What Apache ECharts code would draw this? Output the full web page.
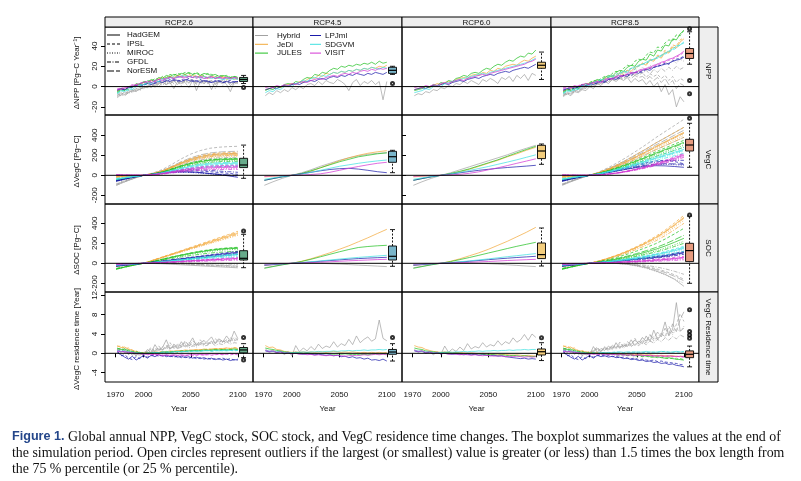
<!DOCTYPE html>
<html><head><meta charset="utf-8">
<script src="https://cdn.jsdelivr.net/npm/echarts@6/dist/echarts.min.js"></script>
<style>html,body{margin:0;padding:0;background:#fff}#c{width:801px;height:481px}</style>
</head><body><div id="c"></div>
<script>
// ---------------- DATA ----------------
const scenarios = ['RCP2.6','RCP4.5','RCP6.0','RCP8.5'];
const variables = ['NPP','VegC','SOC','VegC Residence time'];
const yTitles = ['ΔNPP [Pg−C Year⁻¹]','ΔVegC [Pg−C]','ΔSOC [Pg−C]','ΔVegC residence time [Year]'];
const models = ['Hybrid','JeDi','JULES','LPJml','SDGVM','VISIT'];
const gcms = ['HadGEM','IPSL','MIROC','GFDL','NorESM'];
const xTicks = [1970,2000,2050,2100];
const yTicksNPP = [-20,0,20,40];
const yTicksVegC = [-200,0,200,400];
const yTicksSOC = [-200,0,200,400];
const yTicksRes = [-4,0,4,8,12];
const years4 = [1972,1976,1980,1984,1988,1992,1996,2000,2004,2008,2012,2016,2020,2024,2028,2032,2036,2040,2044,2048,2052,2056,2060,2064,2068,2072,2076,2080,2084,2088,2092,2096,2100];
const years10 = [1971,1980,1990,2000,2010,2020,2030,2040,2050,2060,2070,2080,2090,2100];
const boxYear = 2106;

// NPP RCP2.6 (rows = HadGEM, IPSL, MIROC, GFDL, NorESM)
const npp26_Hybrid = [
 [-9,-6,-8,-4,-5,-2,-3,0,-1,2,1,3,5,2,4,-2,5,3,6,4,7,-4,5,3,6,-3,5,4,6,2,-5,4,3],
 [-7,-8,-5,-6,-3,-4,-1,-2,1,0,3,2,4,6,3,5,7,4,6,8,5,3,7,5,4,6,3,5,7,4,6,2,5],
 [-10,-7,-9,-5,-6,-3,-4,-1,0,2,-1,3,4,2,5,3,6,4,5,3,6,5,2,6,4,5,3,6,1,5,4,3,5],
 [-8,-9,-6,-7,-4,-2,-3,0,-1,1,3,0,4,2,6,3,5,1,6,4,7,2,5,6,3,5,-2,6,4,5,3,5,4],
 [-11,-8,-9,-6,-4,-5,-2,-1,1,-1,2,4,1,5,3,6,2,7,4,-1,6,4,7,3,5,6,2,5,3,6,1,4,5]];
const npp26_JeDi = [
 [-4,-2,-3,0,-1,2,1,4,3,6,5,7,9,8,10,9,11,10,12,10,11,9,11,10,9,10,8,9,10,8,9,7,8],
 [-5,-3,-4,-1,0,1,3,2,4,6,5,8,7,9,10,8,11,9,10,12,10,11,9,10,8,9,10,8,9,7,8,9,7]];
const npp26_JULES = [
 [-5,-3,-4,0,-1,3,2,5,4,7,6,9,8,11,10,12,11,13,12,14,12,13,11,13,12,11,12,10,11,10,9,10,9],
 [-6,-4,-2,-3,1,0,3,4,6,5,8,7,10,9,12,11,13,12,14,13,12,14,12,11,13,12,10,11,10,11,9,10,9]];
const npp26_LPJml = [
 [-3,-2,-3,-1,0,1,0,2,3,2,4,5,4,6,5,7,6,5,7,6,5,6,4,6,5,4,5,6,4,5,4,5,5],
 [-4,-2,-3,0,-1,1,2,1,3,4,3,5,6,5,7,6,5,7,6,8,6,5,7,5,6,4,6,5,4,5,6,4,5]];
const npp26_SDGVM = [
 [-6,-4,-5,-2,-3,0,1,2,4,3,6,5,8,7,9,8,10,9,11,10,9,10,8,10,9,8,9,8,7,8,7,8,7],
 [-7,-5,-3,-4,-1,0,2,3,2,5,6,5,7,9,8,10,9,11,10,9,11,9,10,8,9,10,8,9,7,8,9,7,8]];
const npp26_VISIT = [
 [-2,-3,-1,0,1,2,3,4,5,4,6,7,6,8,9,8,9,10,9,10,9,10,9,8,9,10,8,9,8,9,8,9,8],
 [-3,-1,-2,0,2,1,3,5,4,6,5,7,8,7,9,8,10,9,8,10,9,8,10,9,8,9,8,10,8,9,8,9,8]];
const npp26_box = [3,5,7,9,11];
const npp26_out = [-1];

// NPP RCP4.5 (HadGEM)
const npp45_Hybrid = [[-9,-6,-8,-4,-6,-3,-5,-1,-3,0,-2,2,3,1,5,2,6,4,3,7,5,2,-4,4,7,1,5,3,6,2,5,-13,5]];
const npp45_JeDi = [[-3,-2,-1,0,-1,1,2,3,2,5,4,7,9,8,11,10,13,12,14,13,15,14,16,15,17,16,18,17,19,18,20,19,21]];
const npp45_JULES = [[-4,-2,-3,0,-1,2,3,2,5,4,7,9,8,12,11,14,13,16,18,17,20,19,21,20,22,21,23,22,24,22,25,23,24]];
const npp45_LPJml = [[-3,-2,-1,-2,0,1,0,2,3,2,4,5,6,5,7,8,7,9,10,9,11,10,12,11,13,12,11,13,12,14,13,12,14]];
const npp45_SDGVM = [[-6,-4,-5,-2,-3,0,1,0,3,4,6,5,8,9,8,11,10,12,14,13,15,14,16,15,17,16,18,17,19,18,17,19,18]];
const npp45_VISIT = [[-1,0,-1,1,0,2,1,3,2,4,5,4,6,7,8,7,9,10,11,10,12,13,12,14,13,15,16,15,17,16,18,17,18]];
const npp45_box = [12,13,16,19,20];
const npp45_out = [3];

// NPP RCP6.0 (HadGEM)
const npp60_Hybrid = [[-9,-7,-8,-5,-6,-3,-4,-1,-2,1,0,3,2,5,3,6,4,2,7,5,8,6,3,9,7,10,5,11,8,12,6,13,11]];
const npp60_JeDi = [[-3,-2,-1,0,-1,1,3,2,4,5,4,7,8,9,8,11,12,11,14,13,16,15,18,17,20,21,22,21,24,26,25,28,30]];
const npp60_JULES = [[-4,-3,-2,0,-1,2,1,4,3,6,5,8,9,11,10,13,14,13,16,18,17,20,22,21,24,26,25,28,30,29,33,32,36]];
const npp60_LPJml = [[-3,-2,-1,-2,0,1,0,2,3,2,4,5,6,5,7,8,9,8,10,11,12,11,13,14,15,14,16,17,18,19,18,20,22]];
const npp60_SDGVM = [[-6,-5,-4,-2,-3,0,1,0,3,4,5,6,7,8,9,10,11,12,13,12,14,15,16,17,18,19,20,21,22,23,24,26,28]];
const npp60_VISIT = [[-1,0,-1,1,0,2,1,3,4,3,5,6,7,6,8,9,10,11,12,11,13,14,15,16,17,18,19,20,21,22,24,25,27]];
const npp60_box = [7,18,21,24,34];
const npp60_out = [];

// NPP RCP8.5
const npp85_Hybrid = [
 [-10,-7,-9,-5,-6,-3,-4,0,-2,3,1,5,3,7,5,8,6,9,4,8,5,7,2,6,0,4,-5,2,-8,-3,-20,-10,-15],
 [-8,-6,-7,-3,-5,-1,-2,2,0,4,3,6,5,9,7,10,8,12,10,13,11,14,9,13,10,12,8,11,6,10,4,8,6],
 [-9,-5,-7,-4,-3,-1,0,2,1,5,3,7,6,10,8,12,11,15,13,17,15,19,16,21,18,23,20,24,22,26,23,27,25],
 [-7,-8,-5,-6,-2,-3,1,-1,3,2,6,4,8,6,10,9,12,10,14,11,15,13,16,12,17,14,18,15,19,16,20,17,19],
 [-9,-6,-8,-4,-5,-2,-1,1,0,3,2,5,4,7,6,9,7,10,8,11,9,10,7,10,6,9,4,8,2,6,-2,3,1]];
const npp85_JeDi = [
 [-4,-3,-2,0,-1,2,1,4,3,6,5,8,9,11,10,13,14,16,15,19,20,23,21,26,25,30,28,34,33,39,38,44,47],
 [-5,-3,-4,-1,0,1,3,2,5,6,5,8,10,9,12,13,12,16,18,17,21,23,22,27,26,31,30,36,34,41,40,46,48]];
const npp85_JULES = [
 [-5,-3,-4,-1,-2,1,3,2,5,7,6,9,11,10,14,16,15,19,21,20,25,27,26,32,30,36,35,41,40,47,46,52,55],
 [-6,-4,-2,-3,0,2,1,4,6,5,8,10,9,13,15,14,18,21,20,25,27,26,31,34,33,39,38,43,46,45,51,50,56]];
const npp85_LPJml = [
 [-3,-2,-1,-2,0,1,0,3,2,4,5,4,7,8,7,10,11,10,13,14,13,16,17,16,19,20,21,22,23,25,26,27,29],
 [-4,-2,-3,0,-1,2,1,3,4,3,6,5,7,8,9,8,11,12,11,14,15,14,17,18,19,20,21,23,22,25,27,28,30]];
const npp85_SDGVM = [
 [-6,-4,-5,-2,-3,0,2,1,4,5,7,6,9,11,10,13,15,14,18,19,21,22,24,26,27,29,31,33,35,37,40,41,44],
 [-7,-5,-3,-4,-1,1,0,3,4,6,5,8,10,9,12,14,13,16,18,17,20,22,23,25,27,28,30,32,34,36,38,41,43]];
const npp85_VISIT = [
 [-1,0,-1,1,0,2,3,2,4,5,4,7,8,7,10,11,10,13,14,13,16,17,18,19,21,22,24,25,27,28,30,32,35],
 [-2,-1,0,-1,1,2,1,3,4,5,4,6,7,8,9,10,11,12,13,14,15,16,17,18,20,21,23,24,26,27,29,31,34]];
const npp85_box = [22,27.7,32.6,37.5,54];
const npp85_out = [57,6,-7];

// VegC RCP2.6
const vegc26_Hybrid = [
 [-100,-65,-30,0,18,44,84,125,161,187,205,213,218,220],
 [-90,-58,-27,0,23,58,110,165,212,247,270,281,287,290],
 [-80,-52,-24,0,16,40,76,114,146,170,186,194,198,200],
 [-100,-65,-30,0,14,36,68,103,131,153,167,175,178,180],
 [-90,-58,-27,0,19,48,91,137,175,204,223,233,238,240]];
const vegc26_JeDi = [
 [-20,-13,-6,0,17,42,80,120,153,179,195,204,208,210],
 [-15,-10,-5,0,18,46,87,131,168,196,214,223,228,230],
 [-20,-13,-6,0,15,38,72,108,139,162,177,184,188,190],
 [-10,-7,-3,0,16,40,76,114,146,170,186,194,198,200],
 [-15,-10,-5,0,18,44,84,125,161,187,205,213,218,220]];
const vegc26_JULES = [
 [-50,-33,-15,0,13,32,61,91,117,136,149,155,158,160],
 [-45,-29,-14,0,14,34,65,97,124,145,158,165,168,170],
 [-55,-36,-17,0,12,30,57,86,110,128,140,146,149,150],
 [-50,-33,-15,0,11,28,53,80,102,119,130,136,139,140],
 [-45,-29,-14,0,13,33,63,94,120,140,153,160,163,165]];
const vegc26_LPJml = [
 [-60,-40,-18,0,10,22,32,36,34,28,18,8,-6,-20],
 [-55,-36,-16,0,12,26,38,45,46,42,36,28,20,10],
 [-60,-39,-18,0,8,18,26,30,28,22,14,6,-2,-10],
 [-50,-33,-15,0,12,28,42,52,56,54,49,42,36,30],
 [-55,-36,-16,0,10,22,30,34,32,26,18,10,4,0]];
const vegc26_SDGVM = [
 [-40,-26,-12,0,10,24,46,68,88,102,112,116,119,120],
 [-35,-23,-11,0,9,22,42,63,80,94,102,107,109,110],
 [-40,-26,-12,0,8,20,38,57,73,85,93,97,99,100],
 [-30,-20,-9,0,7,18,34,51,66,77,84,87,89,90],
 [-40,-26,-12,0,10,26,49,74,95,111,121,126,129,130]];
const vegc26_VISIT = [
 [5,3,2,0,6,16,30,46,58,68,74,78,79,80],
 [0,0,0,0,8,20,38,57,73,85,93,97,99,100],
 [5,3,2,0,6,14,27,40,51,60,65,68,69,70],
 [0,0,0,0,5,12,23,34,44,51,56,58,59,60],
 [5,3,2,0,7,18,34,51,66,77,84,87,89,90]];
const vegc26_box = [-30,77,103,170,302];
const vegc26_out = [];

// VegC RCP4.5
const vegc45_Hybrid = [[-100,-65,-30,0,25,55,90,120,150,175,195,210,220,225]];
const vegc45_JeDi = [[-15,-10,-5,0,15,40,75,110,145,175,200,220,235,246]];
const vegc45_JULES = [[-50,-33,-15,0,18,45,75,105,135,160,185,200,215,225]];
const vegc45_LPJml = [[-50,-33,-15,0,15,30,45,58,66,70,62,50,36,26]];
const vegc45_SDGVM = [[-40,-26,-12,0,12,30,50,70,90,105,120,133,144,153]];
const vegc45_VISIT = [[-10,-6,-3,0,3,8,15,30,50,70,88,105,120,130]];
const vegc45_box = [26,130,186,240,250];
const vegc45_out = [];

// VegC RCP6.0
const vegc60_Hybrid = [[-100,-65,-30,0,25,55,85,115,145,175,205,240,270,300]];
const vegc60_JeDi = [[-15,-10,-5,0,15,35,60,90,120,150,185,215,250,280]];
const vegc60_JULES = [[-50,-33,-15,0,18,40,65,95,125,155,190,225,258,290]];
const vegc60_LPJml = [[-50,-33,-15,0,12,25,38,50,60,70,78,85,92,100]];
const vegc60_SDGVM = [[-40,-26,-12,0,14,30,48,68,88,110,132,155,180,205]];
const vegc60_VISIT = [[-10,-6,-3,0,4,10,20,35,55,75,97,120,142,165]];
const vegc60_box = [110,167,243,300,313];
const vegc60_out = [];

// VegC RCP8.5
const vegc85_Hybrid = [
 [-100,-65,-30,0,29,67,110,158,211,264,322,374,427,480],
 [-90,-58,-27,0,34,78,129,185,246,308,375,437,498,560],
 [-85,-55,-26,0,25,59,97,139,185,231,281,328,374,420],
 [-95,-62,-28,0,23,53,87,125,167,209,255,296,338,380],
 [-90,-58,-27,0,27,63,104,149,198,248,302,351,401,450]];
const vegc85_JeDi = [
 [-20,-13,-6,0,26,60,99,142,189,237,288,335,383,430],
 [-15,-10,-5,0,29,67,110,158,211,264,322,374,427,480],
 [-20,-13,-6,0,24,56,92,132,176,220,268,312,356,400],
 [-10,-7,-3,0,23,53,87,125,167,209,255,296,338,380],
 [-15,-10,-5,0,25,59,97,139,185,231,281,328,374,420]];
const vegc85_JULES = [
 [-50,-33,-15,0,20,46,76,109,145,182,221,257,294,330],
 [-45,-29,-14,0,21,49,81,116,154,193,235,273,312,350],
 [-55,-36,-17,0,18,42,69,99,132,165,201,234,267,300],
 [-50,-33,-15,0,17,39,64,92,123,154,188,218,249,280],
 [-45,-29,-14,0,19,45,74,106,141,176,214,250,285,320]];
const vegc85_LPJml = [
 [-60,-40,-18,0,12,28,45,62,78,90,96,94,88,80],
 [-55,-36,-16,0,15,34,56,80,104,126,144,150,138,115],
 [-60,-39,-18,0,12,28,46,64,82,96,106,110,106,100],
 [-50,-33,-15,0,14,32,52,74,96,116,132,144,150,150],
 [-55,-36,-16,0,13,30,48,68,86,102,112,116,114,110]];
const vegc85_SDGVM = [
 [-40,-26,-12,0,16,36,60,86,114,143,174,203,231,260],
 [-35,-23,-11,0,17,39,64,92,123,154,188,218,249,280],
 [-40,-26,-12,0,14,34,55,79,106,132,161,187,214,240],
 [-30,-20,-9,0,13,31,51,73,97,121,147,172,196,220],
 [-40,-26,-12,0,15,35,58,83,110,138,168,195,223,250]];
const vegc85_VISIT = [
 [0,0,0,0,4,12,24,40,60,82,108,136,166,200],
 [0,0,0,0,4,13,26,44,66,90,119,150,183,220],
 [5,3,1,0,4,11,23,38,57,78,103,129,158,190],
 [0,0,0,0,4,11,22,36,54,74,97,122,149,180],
 [5,3,1,0,4,13,25,42,63,86,113,143,174,210]];
const vegc85_box = [80,243,303,360,520];
const vegc85_out = [570];

// SOC RCP2.6
const soc26_Hybrid = [
 [-20,-13,-6,0,-2,-5,-10,-15,-20,-25,-30,-35,-40,-45],
 [-15,-10,-5,0,1,0,-3,-6,-10,-14,-18,-22,-26,-30],
 [-20,-13,-6,0,0,-2,-5,-9,-13,-18,-23,-28,-33,-38],
 [-10,-7,-3,0,2,3,3,2,0,-2,-4,-6,-8,-10],
 [-15,-10,-5,0,1,1,-1,-4,-8,-12,-16,-20,-24,-28]];
const soc26_JeDi = [
 [-30,-20,-9,0,30,60,90,120,150,180,210,240,270,300],
 [-25,-16,-8,0,32,64,96,128,160,192,224,256,288,320],
 [-30,-20,-9,0,28,56,84,112,140,168,196,224,252,280],
 [-20,-13,-6,0,29,58,87,116,145,174,203,232,261,290],
 [-25,-16,-8,0,31,62,93,124,155,186,217,248,279,310]];
const soc26_JULES = [
 [-60,-39,-18,0,18,39,60,80,98,114,128,138,146,150],
 [-55,-36,-16,0,19,42,64,85,104,122,136,147,155,160],
 [-60,-39,-18,0,17,36,56,74,91,106,119,129,136,140],
 [-50,-33,-15,0,14,31,48,64,78,91,102,110,116,120],
 [-55,-36,-16,0,19,40,62,82,101,118,132,143,150,155]];
const soc26_LPJml = [
 [-30,-20,-9,0,10,21,33,45,57,68,79,90,100,110],
 [-25,-16,-8,0,12,24,36,48,60,72,84,96,108,120],
 [-30,-20,-9,0,9,19,29,39,49,59,69,79,89,100],
 [-20,-13,-6,0,8,17,26,35,44,53,62,71,80,90],
 [-25,-16,-8,0,10,20,31,42,52,63,74,84,94,105]];
const soc26_SDGVM = [
 [-20,-13,-6,0,8,16,25,34,43,52,61,70,78,85],
 [-15,-10,-5,0,9,18,28,38,48,58,68,78,88,95],
 [-20,-13,-6,0,7,14,22,30,38,46,54,62,68,75],
 [-10,-7,-3,0,6,13,20,27,34,41,48,54,60,65],
 [-15,-10,-5,0,8,17,26,35,44,53,62,71,80,90]];
const soc26_VISIT = [
 [-10,-7,-3,0,4,9,14,19,25,30,35,40,45,50],
 [-5,-3,-2,0,5,10,16,22,28,34,40,46,52,58],
 [-10,-7,-3,0,3,7,11,16,20,24,28,32,36,40],
 [-5,-3,-2,0,3,6,9,13,16,20,23,26,29,32],
 [-10,-7,-3,0,4,8,13,18,23,28,33,38,42,46]];
const soc26_box = [-44,33,50,126,290];
const soc26_out = [323];

// SOC RCP4.5
const soc45_Hybrid = [[-45,-30,-14,0,2,2,0,-4,-8,-13,-18,-23,-28,-33]];
const soc45_JeDi = [[-20,-13,-6,0,20,45,75,105,140,175,215,255,298,340]];
const soc45_JULES = [[-50,-33,-15,0,18,40,65,90,115,138,158,168,175,180]];
const soc45_LPJml = [[-20,-13,-6,0,6,13,20,27,34,41,47,52,56,60]];
const soc45_SDGVM = [[-15,-10,-5,0,7,15,24,33,42,51,59,66,73,80]];
const soc45_VISIT = [[-10,-7,-3,0,3,7,11,15,20,25,29,33,37,40]];
const soc45_box = [-30,33,70,173,337];
const soc45_out = [];

// SOC RCP6.0
const soc60_Hybrid = [[-45,-30,-14,0,2,3,2,0,-4,-9,-15,-21,-27,-33]];
const soc60_JeDi = [[-20,-13,-6,0,20,45,75,105,140,180,220,265,310,360]];
const soc60_JULES = [[-50,-33,-15,0,17,37,58,80,103,125,148,170,190,210]];
const soc60_LPJml = [[-20,-13,-6,0,6,13,20,28,36,44,51,58,64,70]];
const soc60_SDGVM = [[-15,-10,-5,0,7,15,24,34,44,55,66,76,87,97]];
const soc60_VISIT = [[-10,-7,-3,0,3,6,10,14,18,23,28,32,36,40]];
const soc60_box = [-27,47,87,203,353];
const soc60_out = [];

// SOC RCP8.5
const soc85_Hybrid = [
 [-25,-16,-8,0,2,2,-2,-10,-25,-45,-75,-110,-160,-230],
 [-20,-13,-6,0,3,3,0,-6,-16,-32,-52,-80,-115,-160],
 [-25,-16,-8,0,2,1,-3,-12,-28,-50,-80,-115,-155,-200],
 [-15,-10,-5,0,3,4,2,-3,-10,-20,-35,-55,-80,-110],
 [-20,-13,-6,0,2,2,-1,-8,-20,-38,-62,-92,-130,-175]];
const soc85_JeDi = [
 [-30,-20,-9,0,23,51,83,120,161,207,258,317,386,460],
 [-25,-16,-8,0,24,53,86,125,168,216,269,331,403,480],
 [-30,-20,-9,0,22,47,77,112,151,194,241,297,361,430],
 [-20,-13,-6,0,20,44,72,104,140,180,224,276,336,400],
 [-25,-16,-8,0,23,50,81,117,158,203,252,311,378,450]];
const soc85_JULES = [
 [-60,-39,-18,0,13,28,45,65,88,113,140,173,210,250],
 [-55,-36,-16,0,18,39,63,91,123,158,196,242,294,350],
 [-60,-39,-18,0,11,24,40,57,77,99,123,152,185,220],
 [-50,-33,-15,0,10,22,36,52,70,90,112,138,168,200],
 [-55,-36,-16,0,14,31,50,73,98,126,157,193,235,280]];
const soc85_LPJml = [
 [-30,-20,-9,0,8,16,24,33,43,53,64,76,92,110],
 [-25,-16,-8,0,9,18,27,37,48,59,71,84,101,120],
 [-30,-20,-9,0,7,14,22,30,39,48,58,69,83,100],
 [-20,-13,-6,0,6,13,20,27,35,43,52,62,75,90],
 [-25,-16,-8,0,7,15,23,32,41,50,60,72,88,105]];
const soc85_SDGVM = [
 [-20,-13,-6,0,8,17,27,39,53,68,84,104,126,150],
 [-15,-10,-5,0,9,19,31,44,60,77,95,117,143,170],
 [-20,-13,-6,0,7,15,25,36,49,63,78,97,118,140],
 [-10,-7,-3,0,6,13,22,31,42,54,67,83,101,120],
 [-15,-10,-5,0,8,18,29,42,56,72,90,110,134,160]];
const soc85_VISIT = [
 [-10,-7,-3,0,3,6,10,14,19,24,30,37,45,55],
 [-5,-3,-2,0,4,8,13,18,24,31,39,48,58,70],
 [-10,-7,-3,0,2,5,8,12,16,20,25,31,38,45],
 [-5,-3,-2,0,2,4,6,9,12,16,20,24,29,35],
 [-10,-7,-3,0,3,7,11,16,21,27,34,41,50,60]];
const soc85_box = [-200,17,127,200,473];
const soc85_out = [483];

// VegC residence time RCP2.6
const res26_Hybrid = [
 [0.8,0.2,1.0,-0.3,0.5,-0.5,0.2,-0.3,0.8,0.1,1.8,0.6,1.2,2.8,0.9,1.6,1.0,2.4,1.3,1.9,3.2,1.6,2.2,1.8,2.6,3.4,2.0,2.9,2.4,3.6,2.5,4.6,3.0],
 [0.5,0.9,0.1,0.6,-0.2,0.4,-0.4,0.1,0.5,1.2,0.4,1.5,0.8,1.3,2.2,1.1,1.7,1.3,2.6,1.5,2.0,1.6,2.8,1.9,2.2,2.0,3.0,2.3,2.6,2.1,3.2,2.6,2.9],
 [1.0,0.4,0.7,0.0,0.3,-0.2,-0.5,0.3,0.0,0.6,1.0,0.5,1.4,1.0,1.7,0.9,2.0,1.4,1.6,2.3,1.4,2.1,1.7,2.5,1.8,2.4,2.0,2.6,2.2,2.8,2.3,2.9,2.7],
 [0.6,0.9,0.2,0.4,-0.4,0.1,-0.2,-0.5,0.2,0.5,0.2,0.9,0.6,1.2,0.8,1.5,1.0,1.3,1.8,1.1,1.6,1.3,1.9,1.5,1.7,2.2,1.6,2.0,1.8,2.4,1.9,2.2,2.1],
 [0.9,0.3,0.6,-0.1,0.4,-0.6,0.1,-0.3,0.4,0.9,0.4,1.2,0.7,1.6,1.0,1.9,1.3,1.7,2.2,1.5,2.6,1.8,2.1,2.7,1.9,2.5,2.2,3.1,2.4,2.7,2.5,3.3,2.8]];
const res26_JeDi = [
 [1.6,1.2,1.3,0.8,0.7,0.3,0.2,0.0,0.2,0.1,0.3,0.2,0.4,0.3,0.5,0.4,0.6,0.5,0.7,0.6,0.7,0.8,0.7,0.9,0.8,0.9,1.0,0.9,1.0,1.1,1.0,1.1,1.0],
 [1.4,1.5,1.0,1.1,0.6,0.5,0.1,0.2,0.0,0.2,0.1,0.3,0.2,0.4,0.3,0.5,0.4,0.6,0.5,0.7,0.6,0.7,0.8,0.7,0.9,0.8,0.9,1.0,0.9,1.1,1.0,1.2,1.1]];
const res26_JULES = [
 [1.1,0.8,0.9,0.5,0.4,0.1,0.2,-0.1,0.1,0.0,0.2,0.1,0.3,0.2,0.3,0.4,0.3,0.5,0.4,0.5,0.6,0.5,0.6,0.7,0.6,0.7,0.8,0.7,0.8,0.7,0.8,0.9,0.8],
 [0.9,1.0,0.6,0.7,0.3,0.4,0.0,0.1,-0.1,0.1,0.0,0.2,0.1,0.3,0.2,0.4,0.3,0.4,0.5,0.4,0.5,0.6,0.5,0.6,0.7,0.6,0.7,0.6,0.8,0.7,0.8,0.7,0.8]];
const res26_LPJml = [
 [0.4,-0.3,-0.8,-1.2,-0.6,-1.4,-0.9,-0.5,-1.0,-0.4,-0.7,-0.3,-0.6,-0.4,-0.7,-0.5,-0.8,-0.6,-0.9,-0.7,-1.0,-0.8,-1.1,-0.9,-1.2,-1.0,-1.3,-1.1,-1.4,-1.2,-1.5,-1.3,-1.4],
 [0.2,-0.5,-0.3,-1.0,-1.3,-0.7,-1.1,-0.4,-0.8,-0.5,-0.3,-0.6,-0.4,-0.7,-0.5,-0.8,-0.6,-0.9,-0.7,-1.0,-0.8,-1.1,-0.9,-1.2,-1.0,-1.3,-1.1,-1.2,-1.0,-1.3,-1.1,-1.4,-1.2]];
const res26_SDGVM = [
 [0.6,0.4,0.5,0.2,0.3,0.0,0.1,-0.1,0.0,0.1,0.2,0.1,0.2,0.3,0.2,0.3,0.4,0.3,0.4,0.5,0.4,0.5,0.4,0.5,0.6,0.5,0.6,0.5,0.6,0.5,0.6,0.7,0.6],
 [0.5,0.6,0.3,0.4,0.1,0.2,-0.1,0.0,0.1,0.0,0.2,0.1,0.3,0.2,0.3,0.2,0.4,0.3,0.4,0.3,0.5,0.4,0.5,0.6,0.5,0.4,0.5,0.6,0.5,0.7,0.6,0.5,0.6]];
const res26_VISIT = [
 [0.5,0.3,0.4,0.1,0.2,-0.1,0.0,-0.2,-0.1,-0.3,-0.2,-0.3,-0.4,-0.3,-0.4,-0.3,-0.4,-0.3,-0.4,-0.3,-0.2,-0.3,-0.2,-0.3,-0.2,-0.1,-0.2,-0.1,-0.2,-0.1,0.0,-0.1,0.0],
 [0.4,0.5,0.2,0.3,0.0,0.1,-0.2,-0.1,-0.3,-0.2,-0.4,-0.3,-0.5,-0.4,-0.5,-0.4,-0.5,-0.4,-0.5,-0.4,-0.5,-0.4,-0.3,-0.4,-0.3,-0.4,-0.3,-0.2,-0.3,-0.2,-0.3,-0.2,-0.3]];
const res26_box = [-0.9,0.1,0.7,1.2,2.0];
const res26_out = [3.3,-1.4];

// VegC residence time RCP4.5
const res45_Hybrid = [[0.9,0.3,0.7,0.1,0.5,-0.3,0.4,-0.5,1.6,0.3,1.1,0.5,1.4,0.7,1.9,1.0,1.5,1.2,2.4,1.3,2.0,1.6,2.9,1.8,3.6,2.2,2.9,3.4,2.5,3.0,6.9,3.1,2.6]];
const res45_JeDi = [[1.6,1.2,1.3,0.8,0.7,0.4,0.3,0.2,0.3,0.2,0.3,0.2,0.3,0.2,0.3,0.3,0.2,0.3,0.4,0.3,0.2,0.3,0.2,0.3,0.2,0.1,0.2,0.1,0.2,0.1,0.2,0.1,0.2]];
const res45_JULES = [[1.1,0.9,0.8,0.6,0.5,0.3,0.2,0.1,0.2,0.1,0.0,0.1,0.0,-0.1,0.0,-0.1,0.0,-0.1,-0.2,-0.1,-0.2,-0.1,-0.2,-0.3,-0.2,-0.3,-0.2,-0.3,-0.2,-0.1,-0.2,-0.1,-0.2]];
const res45_LPJml = [[0.5,0.3,0.4,0.2,0.3,0.0,0.1,-0.1,0.0,-0.1,-0.2,-0.1,-0.2,-0.3,-0.2,-0.3,-0.4,-0.3,-0.5,-0.4,-0.7,-0.6,-0.9,-0.7,-1.0,-0.9,-1.2,-1.0,-1.4,-1.3,-1.5,-1.2,-1.6]];
const res45_SDGVM = [[0.6,0.5,0.4,0.4,0.3,0.2,0.2,0.1,0.2,0.2,0.3,0.2,0.3,0.3,0.4,0.3,0.4,0.4,0.5,0.4,0.5,0.5,0.6,0.5,0.6,0.6,0.7,0.6,0.7,0.7,0.8,0.7,0.8]];
const res45_VISIT = [[0.6,0.4,0.5,0.2,0.3,0.0,0.1,-0.1,0.0,-0.2,-0.1,-0.3,-0.2,-0.4,-0.3,-0.4,-0.5,-0.4,-0.5,-0.4,-0.5,-0.6,-0.5,-0.4,-0.5,-0.4,-0.3,-0.4,-0.3,-0.2,-0.3,-0.2,-0.3]];
const res45_box = [-1.6,-0.2,0.27,0.8,2.0];
const res45_out = [3.3];

// VegC residence time RCP6.0
const res60_Hybrid = [[0.8,0.3,0.6,0.0,0.4,-0.3,0.3,-0.2,1.5,0.2,0.9,0.4,1.3,0.6,2.0,0.9,1.4,1.1,2.2,1.3,1.8,1.5,2.6,1.7,2.4,2.0,3.2,2.3,2.8,3.9,2.7,4.0,3.3]];
const res60_JeDi = [[1.6,1.3,1.2,0.8,0.6,0.4,0.3,0.2,0.3,0.2,0.2,0.1,0.2,0.1,0.0,0.1,0.0,-0.1,0.0,-0.1,-0.2,-0.1,-0.2,-0.3,-0.2,-0.3,-0.4,-0.3,-0.4,-0.5,-0.4,-0.5,-0.6]];
const res60_JULES = [[1.1,0.9,0.8,0.5,0.4,0.3,0.2,0.1,0.2,0.1,0.0,0.1,0.0,-0.1,0.0,-0.1,-0.2,-0.1,-0.2,-0.3,-0.2,-0.3,-0.4,-0.3,-0.4,-0.5,-0.4,-0.5,-0.6,-0.5,-0.6,-0.7,-0.6]];
const res60_LPJml = [[0.5,0.3,0.4,0.1,0.2,0.0,0.1,-0.1,0.0,-0.1,-0.2,-0.1,-0.2,-0.3,-0.2,-0.3,-0.2,-0.4,-0.3,-0.4,-0.5,-0.4,-0.6,-0.5,-0.7,-0.8,-0.9,-1.0,-1.1,-1.0,-1.2,-1.1,-1.2]];
const res60_SDGVM = [[0.6,0.5,0.4,0.3,0.3,0.2,0.1,0.2,0.2,0.3,0.2,0.3,0.3,0.4,0.3,0.4,0.4,0.5,0.4,0.5,0.5,0.6,0.5,0.6,0.6,0.7,0.6,0.7,0.7,0.8,0.7,0.8,0.8]];
const res60_VISIT = [[0.6,0.4,0.5,0.2,0.3,0.0,0.1,-0.1,0.0,-0.2,-0.1,-0.2,-0.3,-0.2,-0.3,-0.4,-0.3,-0.4,-0.5,-0.4,-0.5,-0.6,-0.5,-0.6,-0.7,-0.6,-0.7,-0.6,-0.7,-0.8,-0.7,-0.8,-0.7]];
const res60_box = [-1.5,-0.35,0.33,0.9,2.2];
const res60_out = [3.2];

// VegC residence time RCP8.5
const res85_Hybrid = [
 [0.9,0.2,0.7,-0.2,0.5,-0.4,0.3,-0.3,1.4,0.2,1.0,0.6,1.5,0.8,2.2,1.1,1.7,1.4,2.8,1.6,2.5,2.0,3.6,2.4,4.8,2.9,3.8,6.5,3.6,5.0,10.5,4.6,5.2],
 [0.6,0.9,0.1,0.5,-0.3,0.3,-0.5,0.2,0.6,1.3,0.4,1.2,0.8,1.7,1.0,2.3,1.3,2.0,1.6,3.1,1.9,2.6,2.2,3.8,2.6,3.3,4.2,3.4,5.6,4.2,6.0,8.2,6.6],
 [1.0,0.4,0.8,0.0,0.4,-0.2,0.1,0.4,0.1,0.9,0.5,1.4,0.7,1.1,1.8,1.0,2.1,1.5,2.0,2.7,1.9,3.2,2.5,2.9,3.4,2.8,4.1,3.3,4.6,3.9,5.1,4.5,5.6],
 [0.7,0.9,0.3,0.5,-0.2,0.2,-0.3,0.1,0.4,0.8,0.3,1.0,0.6,1.3,0.9,1.5,1.1,1.8,1.4,2.0,1.6,2.3,1.8,2.6,2.1,2.9,2.4,3.2,2.7,3.5,3.0,3.8,3.4],
 [0.8,0.3,0.6,-0.1,0.3,-0.5,0.0,-0.2,0.5,1.0,0.4,1.3,0.9,1.6,1.2,2.0,1.4,2.4,1.8,2.8,2.1,3.3,2.5,3.9,3.0,4.4,3.4,5.2,3.9,6.1,4.5,7.0,8.6]];
const res85_JeDi = [
 [1.6,1.2,1.3,0.8,0.6,0.4,0.3,0.1,0.2,0.1,0.0,0.1,0.0,-0.1,0.0,-0.1,-0.2,-0.1,-0.2,-0.3,-0.2,-0.3,-0.4,-0.3,-0.4,-0.5,-0.4,-0.5,-0.6,-0.5,-0.6,-0.7,-0.6],
 [1.4,1.5,1.0,1.1,0.5,0.6,0.2,0.3,0.1,0.2,0.0,0.1,-0.1,0.0,-0.1,-0.2,-0.1,-0.2,-0.3,-0.2,-0.3,-0.4,-0.3,-0.4,-0.5,-0.4,-0.5,-0.6,-0.5,-0.6,-0.7,-0.6,-0.7]];
const res85_JULES = [
 [1.1,0.8,0.9,0.5,0.4,0.2,0.1,0.0,0.1,-0.1,0.0,-0.1,-0.2,-0.1,-0.2,-0.3,-0.2,-0.4,-0.3,-0.5,-0.4,-0.6,-0.5,-0.7,-0.8,-0.7,-0.9,-1.0,-0.9,-1.1,-1.2,-1.3,-1.4],
 [0.9,1.0,0.6,0.7,0.3,0.4,0.0,0.1,-0.1,0.0,-0.2,-0.1,-0.3,-0.2,-0.3,-0.4,-0.3,-0.5,-0.4,-0.6,-0.5,-0.7,-0.6,-0.8,-0.7,-0.9,-0.8,-1.0,-1.1,-1.0,-1.2,-1.1,-1.3]];
const res85_LPJml = [
 [0.4,-0.3,-0.8,-1.2,-0.6,-1.4,-0.9,-0.5,-1.0,-0.4,-0.7,-0.5,-0.8,-0.6,-0.9,-0.8,-1.1,-1.0,-1.3,-1.2,-1.5,-1.4,-1.7,-1.6,-1.9,-1.8,-2.1,-2.0,-2.3,-2.2,-2.5,-2.6,-2.8],
 [0.2,-0.5,-0.3,-1.0,-1.3,-0.7,-1.1,-0.4,-0.8,-0.5,-0.3,-0.6,-0.5,-0.7,-0.6,-0.9,-0.8,-1.0,-1.1,-1.0,-1.3,-1.2,-1.4,-1.5,-1.4,-1.7,-1.6,-1.8,-1.9,-2.0,-2.1,-2.3,-2.4]];
const res85_SDGVM = [
 [0.6,0.4,0.5,0.2,0.3,0.0,0.1,-0.1,0.1,0.0,0.2,0.1,0.2,0.1,0.2,0.3,0.2,0.3,0.2,0.3,0.2,0.3,0.4,0.3,0.2,0.3,0.4,0.3,0.2,0.3,0.4,0.3,0.3],
 [0.5,0.6,0.3,0.4,0.1,0.2,-0.1,0.0,0.1,0.0,0.1,0.2,0.1,0.2,0.3,0.2,0.1,0.2,0.3,0.2,0.3,0.2,0.1,0.2,0.3,0.2,0.3,0.4,0.3,0.2,0.3,0.2,0.4]];
const res85_VISIT = [
 [0.5,0.3,0.4,0.1,0.2,-0.1,0.0,-0.2,-0.1,-0.2,-0.1,-0.2,-0.3,-0.2,-0.3,-0.2,-0.3,-0.4,-0.3,-0.4,-0.3,-0.4,-0.5,-0.4,-0.5,-0.6,-0.5,-0.6,-0.5,-0.6,-0.7,-0.6,-0.7],
 [0.4,0.5,0.2,0.3,0.0,0.1,-0.2,-0.1,-0.2,-0.1,-0.3,-0.2,-0.3,-0.2,-0.4,-0.3,-0.4,-0.3,-0.4,-0.5,-0.4,-0.5,-0.4,-0.5,-0.6,-0.5,-0.6,-0.7,-0.6,-0.7,-0.6,-0.7,-0.8]];
const res85_box = [-2.8,-0.9,-0.2,0.5,1.5];
const res85_out = [9,4.5,3.8,3.1];

// ---------------- PANEL TABLE ----------------
const panels = [
 {row:0,col:0,years:years4,lines:[npp26_Hybrid,npp26_JeDi,npp26_JULES,npp26_LPJml,npp26_SDGVM,npp26_VISIT],box:npp26_box,out:npp26_out},
 {row:0,col:1,years:years4,lines:[npp45_Hybrid,npp45_JeDi,npp45_JULES,npp45_LPJml,npp45_SDGVM,npp45_VISIT],box:npp45_box,out:npp45_out},
 {row:0,col:2,years:years4,lines:[npp60_Hybrid,npp60_JeDi,npp60_JULES,npp60_LPJml,npp60_SDGVM,npp60_VISIT],box:npp60_box,out:npp60_out},
 {row:0,col:3,years:years4,lines:[npp85_Hybrid,npp85_JeDi,npp85_JULES,npp85_LPJml,npp85_SDGVM,npp85_VISIT],box:npp85_box,out:npp85_out},
 {row:1,col:0,years:years10,lines:[vegc26_Hybrid,vegc26_JeDi,vegc26_JULES,vegc26_LPJml,vegc26_SDGVM,vegc26_VISIT],box:vegc26_box,out:vegc26_out},
 {row:1,col:1,years:years10,lines:[vegc45_Hybrid,vegc45_JeDi,vegc45_JULES,vegc45_LPJml,vegc45_SDGVM,vegc45_VISIT],box:vegc45_box,out:vegc45_out},
 {row:1,col:2,years:years10,lines:[vegc60_Hybrid,vegc60_JeDi,vegc60_JULES,vegc60_LPJml,vegc60_SDGVM,vegc60_VISIT],box:vegc60_box,out:vegc60_out},
 {row:1,col:3,years:years10,lines:[vegc85_Hybrid,vegc85_JeDi,vegc85_JULES,vegc85_LPJml,vegc85_SDGVM,vegc85_VISIT],box:vegc85_box,out:vegc85_out},
 {row:2,col:0,years:years10,lines:[soc26_Hybrid,soc26_JeDi,soc26_JULES,soc26_LPJml,soc26_SDGVM,soc26_VISIT],box:soc26_box,out:soc26_out},
 {row:2,col:1,years:years10,lines:[soc45_Hybrid,soc45_JeDi,soc45_JULES,soc45_LPJml,soc45_SDGVM,soc45_VISIT],box:soc45_box,out:soc45_out},
 {row:2,col:2,years:years10,lines:[soc60_Hybrid,soc60_JeDi,soc60_JULES,soc60_LPJml,soc60_SDGVM,soc60_VISIT],box:soc60_box,out:soc60_out},
 {row:2,col:3,years:years10,lines:[soc85_Hybrid,soc85_JeDi,soc85_JULES,soc85_LPJml,soc85_SDGVM,soc85_VISIT],box:soc85_box,out:soc85_out},
 {row:3,col:0,years:years4,lines:[res26_Hybrid,res26_JeDi,res26_JULES,res26_LPJml,res26_SDGVM,res26_VISIT],box:res26_box,out:res26_out},
 {row:3,col:1,years:years4,lines:[res45_Hybrid,res45_JeDi,res45_JULES,res45_LPJml,res45_SDGVM,res45_VISIT],box:res45_box,out:res45_out},
 {row:3,col:2,years:years4,lines:[res60_Hybrid,res60_JeDi,res60_JULES,res60_LPJml,res60_SDGVM,res60_VISIT],box:res60_box,out:res60_out},
 {row:3,col:3,years:years4,lines:[res85_Hybrid,res85_JeDi,res85_JULES,res85_LPJml,res85_SDGVM,res85_VISIT],box:res85_box,out:res85_out}
];

// ---------------- LAYOUT & STYLE ----------------
const FONT = 'Liberation Sans, Arial, sans-serif';
const colLeft = [105, 253, 402, 551];
const colWidth = [148, 149, 149, 148];
const rowTop = [27, 115, 204, 292];
const rowHeight = [88, 89, 88, 90];
const xRange = [1959, 2116];
const yRange = [[-28, 58.7], [-287, 603], [-287, 593], [-5.94, 12.7]];
const yTickSets = [yTicksNPP, yTicksVegC, yTicksSOC, yTicksRes];
const modelColor = ['#a2a2a2', '#f2a93b', '#22c022', '#1a1aaa', '#3ee0e0', '#d335d3'];
const gcmDash = ['solid', [3, 2], [1, 1.5], [4, 1.5, 1, 1.5], [7, 2]];
const boxColor = ['#67ab8b', '#79b5ca', '#f3cd7d', '#e69b7f'];

const grids = [], xAxes = [], yAxes = [], series = [];
panels.forEach((p, i) => {
  grids.push({left: colLeft[p.col], top: rowTop[p.row], width: colWidth[p.col], height: rowHeight[p.row],
    show: true, borderColor: '#000', borderWidth: 1, backgroundColor: 'rgba(0,0,0,0)', containLabel: false});
  const bottom = p.row === 3, left = p.col === 0;
  const innerTicks = p.row === 1 && p.col === 2;
  xAxes.push({type: 'value', gridIndex: i, min: xRange[0], max: xRange[1], position: 'bottom',
    splitLine: {show: false}, axisLine: {show: false},
    axisTick: {show: bottom, customValues: xTicks, length: 4, lineStyle: {color: '#000', width: 1}},
    axisLabel: {show: bottom, customValues: xTicks, fontSize: 8, color: '#111', margin: 9, fontFamily: FONT,
      formatter: v => String(v)},
    name: bottom ? 'Year' : '', nameLocation: 'middle', nameGap: 23,
    nameTextStyle: {fontSize: 8, color: '#111', fontFamily: FONT}});
  yAxes.push({type: 'value', gridIndex: i, min: yRange[p.row][0], max: yRange[p.row][1], position: 'left',
    splitLine: {show: false}, axisLine: {show: false},
    axisTick: {show: left || innerTicks, inside: innerTicks, customValues: yTickSets[p.row], length: 4, lineStyle: {color: '#000', width: 1}},
    axisLabel: {show: left, customValues: yTickSets[p.row], rotate: 90, fontSize: 8, color: '#111', margin: 6, fontFamily: FONT,
      formatter: v => String(v)}});
  p.lines.forEach((set, m) => {
    set.forEach((vals, g) => {
      series.push({type: 'line', xAxisIndex: i, yAxisIndex: i, symbol: 'none', silent: true, animation: false,
        data: vals.map((v, k) => [p.years[k], v]),
        lineStyle: {color: modelColor[m], width: 0.8, type: gcmDash[g], opacity: 0.9}, z: 2});
    });
  });
  series.push({type: 'line', xAxisIndex: i, yAxisIndex: i, symbol: 'none', silent: true,
    data: [[xRange[0], 0], [xRange[1], 0]], lineStyle: {color: '#000', width: 1}, z: 5});
  series.push({type: 'custom', xAxisIndex: i, yAxisIndex: i, z: 10, silent: true,
    encode: {x: 0, y: [1, 2, 3, 4, 5]},
    data: [[boxYear].concat(p.box)],
    renderItem: (params, api) => {
      const x = api.value(0);
      const pt = k => api.coord([x, api.value(k)]);
      const lo = pt(1), q1 = pt(2), md = pt(3), q3 = pt(4), hi = pt(5);
      const cx = lo[0], hw = 4, cw = 2.5;
      const dash = {stroke: '#000', lineWidth: 0.9, lineDash: [2, 1.5]};
      const solid = {stroke: '#000', lineWidth: 0.9};
      return {type: 'group', children: [
        {type: 'line', shape: {x1: cx, y1: lo[1], x2: cx, y2: q1[1]}, style: dash},
        {type: 'line', shape: {x1: cx, y1: q3[1], x2: cx, y2: hi[1]}, style: dash},
        {type: 'line', shape: {x1: cx - cw, y1: lo[1], x2: cx + cw, y2: lo[1]}, style: solid},
        {type: 'line', shape: {x1: cx - cw, y1: hi[1], x2: cx + cw, y2: hi[1]}, style: solid},
        {type: 'rect', shape: {x: cx - hw, y: q3[1], width: 2 * hw, height: q1[1] - q3[1]},
          style: {fill: boxColor[p.col], stroke: '#000', lineWidth: 0.9}},
        {type: 'line', shape: {x1: cx - hw, y1: md[1], x2: cx + hw, y2: md[1]}, style: {stroke: '#000', lineWidth: 1.2}}
      ]};
    }});
  if (p.out.length) {
    series.push({type: 'scatter', xAxisIndex: i, yAxisIndex: i, z: 11, silent: true,
      data: p.out.map(v => [boxYear, v]), symbol: 'emptyCircle', symbolSize: 3,
      itemStyle: {color: '#000', borderColor: '#000', borderWidth: 0.7}});
  }
});

// ---------------- GRAPHIC (strips, legend, titles, caption) ----------------
const graphic = [];
scenarios.forEach((s, c) => {
  graphic.push({type: 'rect', shape: {x: colLeft[c], y: 17, width: colWidth[c], height: 10},
    style: {fill: '#eeeeee', stroke: '#000', lineWidth: 1}, z: 1});
  graphic.push({type: 'text', x: colLeft[c] + colWidth[c] / 2, y: 22.5,
    style: {text: s, fontSize: 8, fontFamily: FONT, fill: '#111', textAlign: 'center', textVerticalAlign: 'middle'}, z: 2});
});
variables.forEach((v, r) => {
  graphic.push({type: 'rect', shape: {x: 699, y: rowTop[r], width: 19, height: rowHeight[r]},
    style: {fill: '#eeeeee', stroke: '#000', lineWidth: 1}, z: 1});
  graphic.push({type: 'text', x: 708.5, y: rowTop[r] + rowHeight[r] / 2, rotation: -Math.PI / 2,
    style: {text: v, fontSize: 8, fontFamily: FONT, fill: '#111', textAlign: 'center', textVerticalAlign: 'middle'}, z: 2});
  graphic.push({type: 'text', x: 77, y: rowTop[r] + rowHeight[r] / 2 + 2, rotation: Math.PI / 2,
    style: {text: yTitles[r], fontSize: 8, fontFamily: FONT, fill: '#111', textAlign: 'center', textVerticalAlign: 'middle'}, z: 2});
});
// GCM line-type legend
gcms.forEach((g, k) => {
  const y = 35 + k * 9;
  graphic.push({type: 'line', shape: {x1: 107, y1: y, x2: 120, y2: y},
    style: {stroke: '#000', lineWidth: 1, lineDash: gcmDash[k] === 'solid' ? null : gcmDash[k]}, z: 20});
  graphic.push({type: 'text', x: 127, y: y, style: {text: g, fontSize: 8, fontFamily: FONT, fill: '#111', textVerticalAlign: 'middle'}, z: 20});
});
// Model colour legend
models.forEach((m, k) => {
  const colA = k < 3;
  const y = 35.5 + (k % 3) * 8.8;
  const x1 = colA ? 255 : 310, x2 = colA ? 268 : 321, tx = colA ? 277 : 325;
  graphic.push({type: 'line', shape: {x1: x1, y1: y, x2: x2, y2: y}, style: {stroke: modelColor[k], lineWidth: 1}, z: 20});
  graphic.push({type: 'text', x: tx, y: y, style: {text: m, fontSize: 8, fontFamily: FONT, fill: '#111', textVerticalAlign: 'middle'}, z: 20});
});
// Caption
const captionLines = [
  '{a|Figure 1.} Global annual NPP, VegC stock, SOC stock, and VegC residence time changes. The boxplot summarizes the values at the end of',
  'the simulation period. Open circles represent outliers if the largest (or smallest) value is greater (or less) than 1.5 times the box length from',
  'the 75 % percentile (or 25 % percentile).'
];
captionLines.forEach((t, k) => {
  graphic.push({type: 'text', x: 12, y: 437 + k * 16,
    style: {text: t, font: '13.9px "Liberation Serif", "Times New Roman", serif', fill: '#111', textVerticalAlign: 'middle',
      rich: {a: {fontFamily: FONT, fontSize: 12.6, fontWeight: 'bold', fill: '#24468a'}}}});
});

const chart = echarts.init(document.getElementById('c'), null, {renderer: 'canvas'});
chart.setOption({animation: false, textStyle: {fontFamily: FONT}, grid: grids, xAxis: xAxes, yAxis: yAxes, series: series, graphic: graphic});
</script></body></html>
